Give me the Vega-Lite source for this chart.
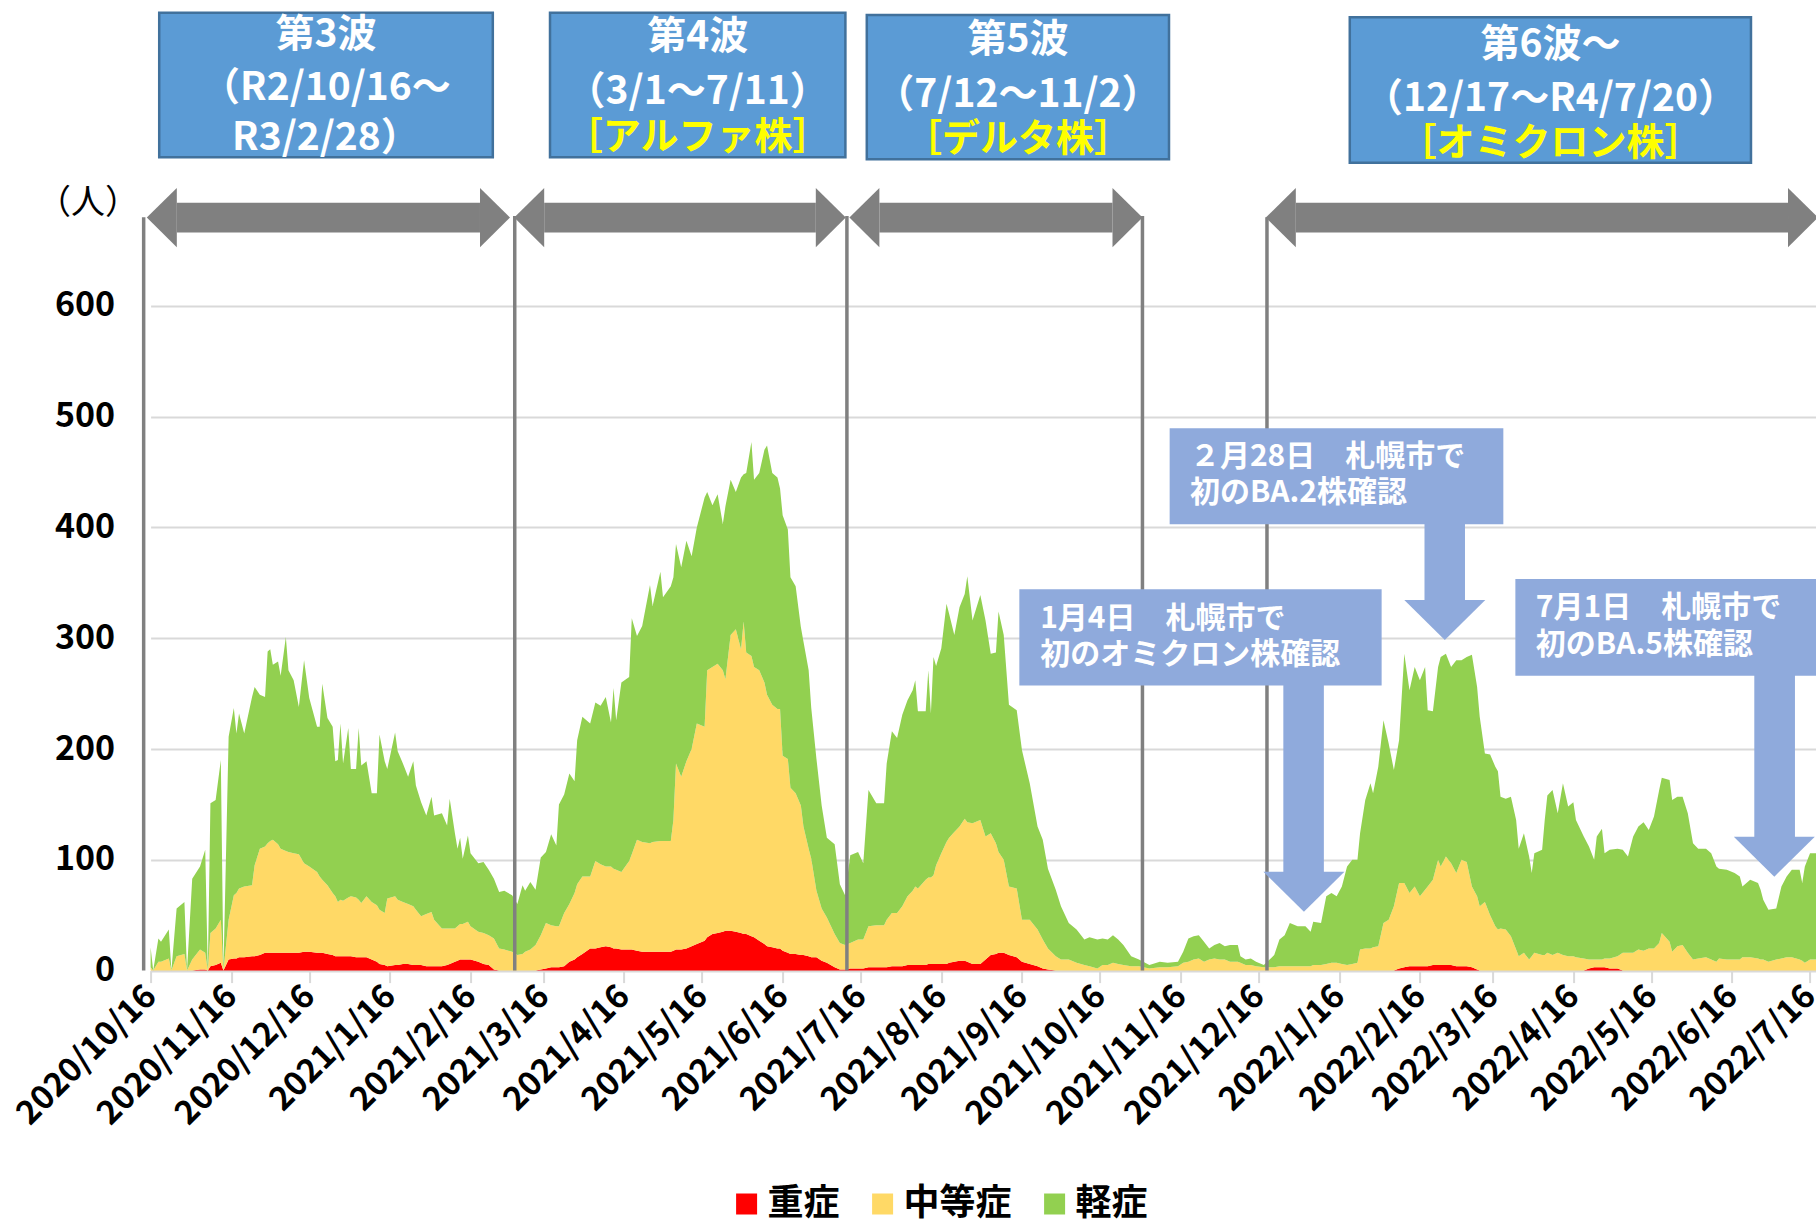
{
"$schema":"https://vega.github.io/schema/vega-lite/v6.json",
"width":1665.4,"height":970.6,
"autosize":{"type":"none"},
"padding":{"left":150.6,"top":0,"right":0,"bottom":249.4},
"background":"white",
"config":{"view":{"stroke":null},"font":"Noto Sans CJK JP"},
"datasets":{
"cases":[
{"日付":"2020-10-16","重症":0,"中等症":3,"軽症":18},
{"日付":"2020-10-17","重症":0,"中等症":0,"軽症":0},
{"日付":"2020-10-19","重症":0,"中等症":8,"軽症":21},
{"日付":"2020-10-20","重症":0,"中等症":8,"軽症":18},
{"日付":"2020-10-23","重症":0,"中等症":11,"軽症":26},
{"日付":"2020-10-24","重症":0,"中等症":0,"軽症":0},
{"日付":"2020-10-26","重症":0,"中等症":13,"軽症":43},
{"日付":"2020-10-29","重症":0,"中等症":15,"軽症":47},
{"日付":"2020-10-30","重症":0,"中等症":0,"軽症":0},
{"日付":"2020-11-01","重症":0,"中等症":10,"軽症":73},
{"日付":"2020-11-04","重症":1,"中等症":18,"軽症":75},
{"日付":"2020-11-06","重症":1,"中等症":15,"軽症":93},
{"日付":"2020-11-07","重症":0,"中等症":0,"軽症":0},
{"日付":"2020-11-08","重症":4,"中等症":30,"軽症":117},
{"日付":"2020-11-10","重症":5,"中等症":33,"軽症":116},
{"日付":"2020-11-12","重症":7,"中等症":39,"軽症":144},
{"日付":"2020-11-13","重症":0,"中等症":0,"軽症":0},
{"日付":"2020-11-15","重症":10,"中等症":36,"軽症":165},
{"日付":"2020-11-17","重症":11,"中等症":57,"軽症":169},
{"日付":"2020-11-18","重症":11,"中等症":59,"軽症":144},
{"日付":"2020-11-19","重症":12,"中等症":62,"軽症":158},
{"日付":"2020-11-21","重症":12,"中等症":64,"軽症":138},
{"日付":"2020-11-24","重症":13,"中等症":64,"軽症":170},
{"日付":"2020-11-25","重症":13,"中等症":82,"軽症":161},
{"日付":"2020-11-27","重症":14,"中等症":96,"軽症":139},
{"日付":"2020-11-29","重症":16,"中等症":96,"軽症":135},
{"日付":"2020-11-30","重症":16,"中等症":99,"軽症":173},
{"日付":"2020-12-01","重症":16,"中等症":101,"軽症":173},
{"日付":"2020-12-02","重症":16,"中等症":102,"軽症":158},
{"日付":"2020-12-04","重症":16,"中等症":98,"軽症":165},
{"日付":"2020-12-05","重症":16,"中等症":94,"軽症":156},
{"日付":"2020-12-07","重症":16,"中等症":92,"軽症":193},
{"日付":"2020-12-08","重症":16,"中等症":91,"軽症":164},
{"日付":"2020-12-10","重症":16,"中等症":90,"軽症":156},
{"日付":"2020-12-12","重症":16,"中等症":89,"軽症":133},
{"日付":"2020-12-14","重症":17,"中等症":80,"軽症":183},
{"日付":"2020-12-16","重症":17,"中等症":77,"軽症":152},
{"日付":"2020-12-19","重症":16,"中等症":73,"軽症":131},
{"日付":"2020-12-20","重症":16,"中等症":69,"軽症":135},
{"日付":"2020-12-21","重症":16,"中等症":66,"軽症":177},
{"日付":"2020-12-23","重症":15,"中等症":62,"軽症":151},
{"日付":"2020-12-25","重症":14,"中等症":56,"軽症":150},
{"日付":"2020-12-26","重症":13,"中等症":54,"軽症":122},
{"日付":"2020-12-27","重症":13,"中等症":49,"軽症":128},
{"日付":"2020-12-28","重症":13,"中等症":51,"軽症":159},
{"日付":"2020-12-29","重症":13,"中等症":50,"軽症":124},
{"日付":"2020-12-31","重症":13,"中等症":53,"軽症":153},
{"日付":"2021-01-01","重症":13,"中等症":54,"軽症":115},
{"日付":"2021-01-03","重症":12,"中等症":54,"軽症":116},
{"日付":"2021-01-04","重症":12,"中等症":52,"軽症":155},
{"日付":"2021-01-05","重症":12,"中等症":49,"軽症":124},
{"日付":"2021-01-07","重症":12,"中等症":55,"軽症":122},
{"日付":"2021-01-09","重症":10,"中等症":52,"軽症":98},
{"日付":"2021-01-11","重症":8,"中等症":51,"軽症":101},
{"日付":"2021-01-12","重症":6,"中等症":49,"軽症":158},
{"日付":"2021-01-14","重症":5,"中等症":47,"軽症":137},
{"日付":"2021-01-15","重症":4,"中等症":61,"軽症":117},
{"日付":"2021-01-18","重症":5,"中等症":62,"軽症":148},
{"日付":"2021-01-19","重症":5,"中等症":59,"軽症":134},
{"日付":"2021-01-21","重症":6,"中等症":56,"軽症":125},
{"日付":"2021-01-23","重症":6,"中等症":54,"軽症":115},
{"日付":"2021-01-25","重症":5,"中等症":53,"軽症":131},
{"日付":"2021-01-26","重症":5,"中等症":50,"軽症":112},
{"日付":"2021-01-28","重症":5,"中等症":44,"軽症":103},
{"日付":"2021-01-30","重症":4,"中等症":47,"軽症":89},
{"日付":"2021-02-01","重症":4,"中等症":49,"軽症":104},
{"日付":"2021-02-02","重症":4,"中等症":42,"軽症":94},
{"日付":"2021-02-05","重症":4,"中等症":34,"軽症":104},
{"日付":"2021-02-07","重症":5,"中等症":33,"軽症":93},
{"日付":"2021-02-08","重症":6,"中等症":32,"軽症":117},
{"日付":"2021-02-10","重症":8,"中等症":30,"軽症":86},
{"日付":"2021-02-11","重症":9,"中等症":31,"軽症":70},
{"日付":"2021-02-12","重症":10,"中等症":32,"軽症":78},
{"日付":"2021-02-13","重症":10,"中等症":32,"軽症":59},
{"日付":"2021-02-15","重症":10,"中等症":34,"軽症":78},
{"日付":"2021-02-16","重症":10,"中等症":30,"軽症":66},
{"日付":"2021-02-19","重症":8,"中等症":27,"軽症":62},
{"日付":"2021-02-21","重症":6,"中等症":28,"軽症":64},
{"日付":"2021-02-23","重症":5,"中等症":27,"軽症":59},
{"日付":"2021-02-25","重症":1,"中等症":28,"軽症":54},
{"日付":"2021-02-27","重症":0,"中等症":20,"軽症":51},
{"日付":"2021-03-01","重症":0,"中等症":19,"軽症":53},
{"日付":"2021-03-04","重症":0,"中等症":17,"軽症":51},
{"日付":"2021-03-06","重症":0,"中等症":14,"軽症":46},
{"日付":"2021-03-08","重症":0,"中等症":15,"軽症":62},
{"日付":"2021-03-09","重症":0,"中等症":17,"軽症":55},
{"日付":"2021-03-11","重症":0,"中等症":19,"軽症":61},
{"日付":"2021-03-13","重症":0,"中等症":23,"軽症":50},
{"日付":"2021-03-15","重症":1,"中等症":31,"軽症":70},
{"日付":"2021-03-17","重症":2,"中等症":41,"軽症":64},
{"日付":"2021-03-19","重症":3,"中等症":38,"軽症":82},
{"日付":"2021-03-21","重症":3,"中等症":37,"軽症":73},
{"日付":"2021-03-22","重症":3,"中等症":37,"軽症":110},
{"日付":"2021-03-24","重症":4,"中等症":48,"軽症":107},
{"日付":"2021-03-26","重症":8,"中等症":52,"軽症":118},
{"日付":"2021-03-28","重症":10,"中等症":60,"軽症":101},
{"日付":"2021-03-29","重症":12,"中等症":66,"軽症":130},
{"日付":"2021-03-31","重症":15,"中等症":70,"軽症":144},
{"日付":"2021-04-03","重症":20,"中等症":65,"軽症":138},
{"日付":"2021-04-05","重症":20,"中等症":79,"軽症":143},
{"日付":"2021-04-07","重症":21,"中等症":75,"軽症":143},
{"日付":"2021-04-09","重症":22,"中等症":72,"軽症":153},
{"日付":"2021-04-11","重症":21,"中等症":73,"軽症":130},
{"日付":"2021-04-12","重症":20,"中等症":72,"軽症":163},
{"日付":"2021-04-13","重症":20,"中等症":71,"軽症":135},
{"日付":"2021-04-15","重症":19,"中等症":70,"軽症":171},
{"日付":"2021-04-18","重症":19,"中等症":80,"軽症":166},
{"日付":"2021-04-19","重症":19,"中等症":86,"軽症":213},
{"日付":"2021-04-21","重症":18,"中等症":100,"軽症":184},
{"日付":"2021-04-23","重症":17,"中等症":99,"軽症":195},
{"日付":"2021-04-26","重症":17,"中等症":98,"軽症":233},
{"日付":"2021-04-27","重症":17,"中等症":99,"軽症":213},
{"日付":"2021-04-30","重症":17,"中等症":100,"軽症":243},
{"日付":"2021-05-01","重症":17,"中等症":100,"軽症":220},
{"日付":"2021-05-04","重症":17,"中等症":100,"軽症":230},
{"日付":"2021-05-05","重症":18,"中等症":118,"軽症":219},
{"日付":"2021-05-06","重症":19,"中等症":168,"軽症":198},
{"日付":"2021-05-08","重症":19,"中等症":156,"軽症":189},
{"日付":"2021-05-10","重症":20,"中等症":169,"軽症":199},
{"日付":"2021-05-12","重症":22,"中等症":178,"軽症":174},
{"日付":"2021-05-14","重症":24,"中等症":199,"軽症":177},
{"日付":"2021-05-17","重症":27,"中等症":193,"軽症":207},
{"日付":"2021-05-18","重症":30,"中等症":241,"軽症":161},
{"日付":"2021-05-20","重症":33,"中等症":241,"軽症":146},
{"日付":"2021-05-22","重症":34,"中等症":243,"軽症":153},
{"日付":"2021-05-24","重症":35,"中等症":236,"軽症":132},
{"日付":"2021-05-25","重症":36,"中等症":227,"軽症":156},
{"日付":"2021-05-27","重症":36,"中等症":267,"軽症":140},
{"日付":"2021-05-29","重症":35,"中等症":273,"軽症":124},
{"日付":"2021-05-31","重症":34,"中等症":256,"軽症":155},
{"日付":"2021-06-01","重症":33,"中等症":282,"軽症":133},
{"日付":"2021-06-02","重症":33,"中等症":254,"軽症":162},
{"日付":"2021-06-04","重症":31,"中等症":253,"軽症":193},
{"日付":"2021-06-05","重症":30,"中等症":244,"軽症":169},
{"日付":"2021-06-07","重症":27,"中等症":244,"軽症":178},
{"日付":"2021-06-09","重症":24,"中等症":236,"軽症":210},
{"日付":"2021-06-10","重症":22,"中等症":227,"軽症":225},
{"日付":"2021-06-12","重症":21,"中等症":219,"軽症":209},
{"日付":"2021-06-14","重症":20,"中等症":216,"軽症":209},
{"日付":"2021-06-15","重症":20,"中等症":216,"軽症":199},
{"日付":"2021-06-16","重症":18,"中等症":176,"軽症":217},
{"日付":"2021-06-18","重症":16,"中等症":175,"軽症":207},
{"日付":"2021-06-19","重症":15,"中等症":150,"軽症":190},
{"日付":"2021-06-21","重症":15,"中等症":145,"軽症":187},
{"日付":"2021-06-23","重症":14,"中等症":135,"軽症":161},
{"日付":"2021-06-24","重症":14,"中等症":116,"軽症":167},
{"日付":"2021-06-26","重症":13,"中等症":97,"軽症":161},
{"日付":"2021-06-27","重症":12,"中等症":89,"軽症":136},
{"日付":"2021-06-29","重症":12,"中等症":60,"軽症":119},
{"日付":"2021-07-01","重症":9,"中等症":47,"軽症":93},
{"日付":"2021-07-03","重症":7,"中等症":41,"軽症":72},
{"日付":"2021-07-06","重症":3,"中等症":30,"軽症":81},
{"日付":"2021-07-08","重症":1,"中等症":24,"軽症":53},
{"日付":"2021-07-10","重症":1,"中等症":22,"軽症":45},
{"日付":"2021-07-12","重症":2,"中等症":23,"軽症":79},
{"日付":"2021-07-15","重症":2,"中等症":26,"軽症":79},
{"日付":"2021-07-17","重症":2,"中等症":26,"軽症":69},
{"日付":"2021-07-19","重症":3,"中等症":37,"軽症":123},
{"日付":"2021-07-22","重症":3,"中等症":38,"軽症":110},
{"日付":"2021-07-25","重症":3,"中等症":38,"軽症":110},
{"日付":"2021-07-26","重症":3,"中等症":43,"軽症":141},
{"日付":"2021-07-28","重症":4,"中等症":48,"軽症":164},
{"日付":"2021-07-30","重症":4,"中等症":48,"軽症":158},
{"日付":"2021-08-01","重症":4,"中等症":54,"軽症":173},
{"日付":"2021-08-03","重症":5,"中等症":62,"軽症":177},
{"日付":"2021-08-05","重症":5,"中等症":67,"軽症":181},
{"日付":"2021-08-06","重症":5,"中等症":71,"軽症":186},
{"日付":"2021-08-07","重症":5,"中等症":69,"軽症":160},
{"日付":"2021-08-10","重症":5,"中等症":77,"軽症":152},
{"日付":"2021-08-11","重症":6,"中等症":78,"軽症":187},
{"日付":"2021-08-12","重症":6,"中等症":78,"軽症":148},
{"日付":"2021-08-13","重症":6,"中等症":80,"軽症":197},
{"日付":"2021-08-14","重症":6,"中等症":89,"軽症":180},
{"日付":"2021-08-16","重症":6,"中等症":100,"軽症":185},
{"日付":"2021-08-18","重症":6,"中等症":110,"軽症":215},
{"日付":"2021-08-19","重症":7,"中等症":113,"軽症":202},
{"日付":"2021-08-21","重症":8,"中等症":117,"軽症":178},
{"日付":"2021-08-23","重症":9,"中等症":121,"軽症":198},
{"日付":"2021-08-25","重症":9,"中等症":128,"軽症":203},
{"日付":"2021-08-26","重症":8,"中等症":126,"軽症":222},
{"日付":"2021-08-28","重症":6,"中等症":127,"軽症":183},
{"日付":"2021-08-31","重症":6,"中等症":130,"軽症":203},
{"日付":"2021-09-02","重症":10,"中等症":111,"軽症":195},
{"日付":"2021-09-04","重症":14,"中等症":110,"軽症":162},
{"日付":"2021-09-06","重症":15,"中等症":100,"軽症":172},
{"日付":"2021-09-07","重症":16,"中等症":91,"軽症":217},
{"日付":"2021-09-09","重症":16,"中等症":84,"軽症":203},
{"日付":"2021-09-11","重症":14,"中等症":62,"軽症":164},
{"日付":"2021-09-14","重症":12,"中等症":62,"軽症":161},
{"日付":"2021-09-16","重症":8,"中等症":38,"軽症":153},
{"日付":"2021-09-19","重症":6,"中等症":40,"軽症":123},
{"日付":"2021-09-22","重症":4,"中等症":33,"軽症":93},
{"日付":"2021-09-24","重症":2,"中等症":26,"軽症":90},
{"日付":"2021-09-26","重症":1,"中等症":19,"軽症":72},
{"日付":"2021-09-29","重症":0,"中等症":13,"軽症":60},
{"日付":"2021-10-01","重症":0,"中等症":10,"軽症":48},
{"日付":"2021-10-04","重症":0,"中等症":10,"軽症":33},
{"日付":"2021-10-07","重症":0,"中等症":7,"軽症":30},
{"日付":"2021-10-10","重症":0,"中等症":5,"軽症":23},
{"日付":"2021-10-12","重症":0,"中等症":4,"軽症":26},
{"日付":"2021-10-15","重症":0,"中等症":2,"軽症":26},
{"日付":"2021-10-17","重症":0,"中等症":5,"軽症":24},
{"日付":"2021-10-19","重症":0,"中等症":5,"軽症":23},
{"日付":"2021-10-21","重症":0,"中等症":7,"軽症":25},
{"日付":"2021-10-23","重症":0,"中等症":6,"軽症":22},
{"日付":"2021-10-25","重症":0,"中等症":5,"軽症":18},
{"日付":"2021-10-28","重症":0,"中等症":4,"軽症":9},
{"日付":"2021-10-31","重症":0,"中等症":4,"軽症":6},
{"日付":"2021-11-04","重症":0,"中等症":2,"軽症":3},
{"日付":"2021-11-08","重症":0,"中等症":3,"軽症":5},
{"日付":"2021-11-11","重症":0,"中等症":3,"軽症":4},
{"日付":"2021-11-15","重症":0,"中等症":4,"軽症":4},
{"日付":"2021-11-17","重症":0,"中等症":7,"軽症":10},
{"日付":"2021-11-19","重症":0,"中等症":8,"軽症":21},
{"日付":"2021-11-21","重症":0,"中等症":10,"軽症":21},
{"日付":"2021-11-23","重症":0,"中等症":11,"軽症":21},
{"日付":"2021-11-25","重症":0,"中等症":8,"軽症":18},
{"日付":"2021-11-27","重症":0,"中等症":10,"軽症":10},
{"日付":"2021-11-29","重症":0,"中等症":11,"軽症":12},
{"日付":"2021-12-01","重症":0,"中等症":10,"軽症":15},
{"日付":"2021-12-03","重症":0,"中等症":10,"軽症":12},
{"日付":"2021-12-05","重症":0,"中等症":8,"軽症":15},
{"日付":"2021-12-08","重症":0,"中等症":8,"軽症":15},
{"日付":"2021-12-09","重症":0,"中等症":7,"軽症":6},
{"日付":"2021-12-11","重症":0,"中等症":5,"軽症":5},
{"日付":"2021-12-13","重症":0,"中等症":5,"軽症":6},
{"日付":"2021-12-15","重症":0,"中等症":4,"軽症":4},
{"日付":"2021-12-18","重症":0,"中等症":3,"軽症":2},
{"日付":"2021-12-22","重症":0,"中等症":3,"軽症":11},
{"日付":"2021-12-24","重症":0,"中等症":4,"軽症":24},
{"日付":"2021-12-26","重症":0,"中等症":4,"軽症":28},
{"日付":"2021-12-28","重症":0,"中等症":4,"軽症":39},
{"日付":"2021-12-31","重症":0,"中等症":4,"軽症":36},
{"日付":"2022-01-03","重症":0,"中等症":4,"軽症":36},
{"日付":"2022-01-05","重症":0,"中等症":4,"軽症":31},
{"日付":"2022-01-06","重症":0,"中等症":5,"軽症":39},
{"日付":"2022-01-09","重症":0,"中等症":5,"軽症":38},
{"日付":"2022-01-11","重症":0,"中等症":6,"軽症":61},
{"日付":"2022-01-13","重症":0,"中等症":7,"軽症":63},
{"日付":"2022-01-15","重症":0,"中等症":7,"軽症":60},
{"日付":"2022-01-17","重症":0,"中等症":6,"軽症":70},
{"日付":"2022-01-19","重症":0,"中等症":5,"軽症":89},
{"日付":"2022-01-21","重症":0,"中等症":6,"軽症":94},
{"日付":"2022-01-23","重症":0,"中等症":7,"軽症":93},
{"日付":"2022-01-24","重症":0,"中等症":19,"軽症":105},
{"日付":"2022-01-26","重症":0,"中等症":20,"軽症":134},
{"日付":"2022-01-28","重症":0,"中等症":20,"軽症":149},
{"日付":"2022-01-29","重症":0,"中等症":21,"軽症":139},
{"日付":"2022-01-31","重症":0,"中等症":22,"軽症":162},
{"日付":"2022-02-02","重症":0,"中等症":43,"軽症":183},
{"日付":"2022-02-04","重症":0,"中等症":46,"軽症":159},
{"日付":"2022-02-06","重症":0,"中等症":58,"軽症":123},
{"日付":"2022-02-08","重症":2,"中等症":77,"軽症":129},
{"日付":"2022-02-10","重症":3,"中等症":76,"軽症":207},
{"日付":"2022-02-12","重症":4,"中等症":66,"軽症":183},
{"日付":"2022-02-14","重症":4,"中等症":72,"軽症":198},
{"日付":"2022-02-16","重症":4,"中等症":63,"軽症":195},
{"日付":"2022-02-18","重症":4,"中等症":69,"軽症":201},
{"日付":"2022-02-19","重症":4,"中等症":72,"軽症":159},
{"日付":"2022-02-21","重症":5,"中等症":77,"軽症":152},
{"日付":"2022-02-23","重症":5,"中等症":95,"軽症":174},
{"日付":"2022-02-24","重症":5,"中等症":89,"軽症":189},
{"日付":"2022-02-26","重症":5,"中等症":98,"軽症":183},
{"日付":"2022-02-28","重症":5,"中等症":92,"軽症":177},
{"日付":"2022-03-02","重症":4,"中等症":84,"軽症":192},
{"日付":"2022-03-04","重症":4,"中等症":96,"軽症":180},
{"日付":"2022-03-06","重症":4,"中等症":94,"軽症":185},
{"日付":"2022-03-08","重症":3,"中等症":73,"軽症":209},
{"日付":"2022-03-10","重症":1,"中等症":66,"軽症":189},
{"日付":"2022-03-11","重症":0,"中等症":58,"軽症":171},
{"日付":"2022-03-13","重症":0,"中等症":62,"軽症":134},
{"日付":"2022-03-15","重症":0,"中等症":50,"軽症":145},
{"日付":"2022-03-17","重症":0,"中等症":40,"軽症":144},
{"日付":"2022-03-18","重症":0,"中等症":37,"軽症":143},
{"日付":"2022-03-19","重症":0,"中等症":38,"軽症":119},
{"日付":"2022-03-21","重症":0,"中等症":37,"軽症":118},
{"日付":"2022-03-23","重症":0,"中等症":31,"軽症":126},
{"日付":"2022-03-25","重症":0,"中等症":19,"軽症":117},
{"日付":"2022-03-26","重症":0,"中等症":13,"軽症":97},
{"日付":"2022-03-28","重症":0,"中等症":16,"軽症":108},
{"日付":"2022-03-30","重症":0,"中等症":10,"軽症":93},
{"日付":"2022-03-31","重症":0,"中等症":13,"軽症":75},
{"日付":"2022-04-01","重症":0,"中等症":16,"軽症":90},
{"日付":"2022-04-04","重症":0,"中等症":14,"軽症":95},
{"日付":"2022-04-05","重症":0,"中等症":14,"軽症":122},
{"日付":"2022-04-06","重症":0,"中等症":16,"軽症":142},
{"日付":"2022-04-08","重症":0,"中等症":14,"軽症":149},
{"日付":"2022-04-10","重症":0,"中等症":16,"軽症":126},
{"日付":"2022-04-12","重症":0,"中等症":14,"軽症":155},
{"日付":"2022-04-14","重症":0,"中等症":13,"軽症":135},
{"日付":"2022-04-16","重症":0,"中等症":13,"軽症":139},
{"日付":"2022-04-17","重症":0,"中等症":12,"軽症":124},
{"日付":"2022-04-20","重症":0,"中等症":11,"軽症":110},
{"日付":"2022-04-22","重症":2,"中等症":8,"軽症":102},
{"日付":"2022-04-24","重症":3,"中等症":7,"軽症":90},
{"日付":"2022-04-25","重症":3,"中等症":7,"軽症":111},
{"日付":"2022-04-27","重症":3,"中等症":7,"軽症":118},
{"日付":"2022-04-28","重症":3,"中等症":8,"軽症":95},
{"日付":"2022-04-30","重症":2,"中等症":9,"軽症":98},
{"日付":"2022-05-03","重症":2,"中等症":11,"軽症":97},
{"日付":"2022-05-05","重症":0,"中等症":16,"軽症":93},
{"日付":"2022-05-07","重症":0,"中等症":16,"軽症":87},
{"日付":"2022-05-09","重症":0,"中等症":16,"軽症":105},
{"日付":"2022-05-11","重症":0,"中等症":19,"軽症":111},
{"日付":"2022-05-13","重症":0,"中等症":18,"軽症":116},
{"日付":"2022-05-15","重症":0,"中等症":20,"軽症":107},
{"日付":"2022-05-17","重症":0,"中等症":20,"軽症":119},
{"日付":"2022-05-19","重症":0,"中等症":25,"軽症":138},
{"日付":"2022-05-20","重症":0,"中等症":34,"軽症":140},
{"日付":"2022-05-23","重症":0,"中等症":26,"軽症":146},
{"日付":"2022-05-24","重症":0,"中等症":17,"軽症":137},
{"日付":"2022-05-26","重症":0,"中等症":22,"軽症":135},
{"日付":"2022-05-28","重症":0,"中等症":23,"軽症":134},
{"日付":"2022-05-30","重症":0,"中等症":16,"軽症":126},
{"日付":"2022-06-01","重症":0,"中等症":10,"軽症":105},
{"日付":"2022-06-03","重症":0,"中等症":11,"軽症":99},
{"日付":"2022-06-06","重症":0,"中等症":12,"軽症":98},
{"日付":"2022-06-08","重症":0,"中等症":10,"軽症":96},
{"日付":"2022-06-10","重症":0,"中等症":8,"軽症":86},
{"日付":"2022-06-11","重症":0,"中等症":11,"軽症":81},
{"日付":"2022-06-14","重症":0,"中等症":10,"軽症":81},
{"日付":"2022-06-17","重症":0,"中等症":10,"軽症":78},
{"日付":"2022-06-19","重症":0,"中等症":10,"軽症":75},
{"日付":"2022-06-20","重症":0,"中等症":12,"軽症":64},
{"日付":"2022-06-23","重症":0,"中等症":12,"軽症":70},
{"日付":"2022-06-26","重症":0,"中等症":11,"軽症":68},
{"日付":"2022-06-27","重症":0,"中等症":10,"軽症":63},
{"日付":"2022-06-28","重症":0,"中等症":10,"軽症":54},
{"日付":"2022-06-30","重症":0,"中等症":8,"軽症":47},
{"日付":"2022-07-03","重症":0,"中等症":10,"軽症":46},
{"日付":"2022-07-05","重症":0,"中等症":11,"軽症":65},
{"日付":"2022-07-07","重症":0,"中等症":12,"軽症":73},
{"日付":"2022-07-09","重症":0,"中等症":12,"軽症":79},
{"日付":"2022-07-12","重症":0,"中等症":10,"軽症":81},
{"日付":"2022-07-13","重症":0,"中等症":9,"軽症":70},
{"日付":"2022-07-14","重症":0,"中等症":7,"軽症":87},
{"日付":"2022-07-16","重症":0,"中等症":10,"軽症":96},
{"日付":"2022-07-20","重症":0,"中等症":10,"軽症":96}
]
},
"encoding":{
"x":{"field":"日付","type":"temporal",
 "scale":{"type":"utc","domain":[{"year":2020,"month":10,"date":16,"utc":true},{"year":2022,"month":7,"date":18,"hours":7,"utc":true}]},
 "axis":{"title":null,"grid":false,
  "values":[{"year":2020,"month":10,"date":16,"utc":true},{"year":2020,"month":11,"date":16,"utc":true},{"year":2020,"month":12,"date":16,"utc":true},{"year":2021,"month":1,"date":16,"utc":true},{"year":2021,"month":2,"date":16,"utc":true},{"year":2021,"month":3,"date":16,"utc":true},{"year":2021,"month":4,"date":16,"utc":true},{"year":2021,"month":5,"date":16,"utc":true},{"year":2021,"month":6,"date":16,"utc":true},{"year":2021,"month":7,"date":16,"utc":true},{"year":2021,"month":8,"date":16,"utc":true},{"year":2021,"month":9,"date":16,"utc":true},{"year":2021,"month":10,"date":16,"utc":true},{"year":2021,"month":11,"date":16,"utc":true},{"year":2021,"month":12,"date":16,"utc":true},{"year":2022,"month":1,"date":16,"utc":true},{"year":2022,"month":2,"date":16,"utc":true},{"year":2022,"month":3,"date":16,"utc":true},{"year":2022,"month":4,"date":16,"utc":true},{"year":2022,"month":5,"date":16,"utc":true},{"year":2022,"month":6,"date":16,"utc":true},{"year":2022,"month":7,"date":16,"utc":true}],
  "labelExpr":"utcFormat(datum.value, '%Y/%-m/%-d')",
  "labelAngle":-45,"labelAlign":"right","labelBaseline":"middle","labelPadding":8,"labelLimit":0,
  "labelFontSize":33,"labelFontWeight":"bold","labelColor":"#000000","labelFont":"Noto Sans CJK JP",
  "labelOverlap":false,"labelBound":false,"labelFlush":false,
  "tickSize":12,"tickColor":"#D9D9D9","tickWidth":2,"domainColor":"#D9D9D9","domainWidth":2}},
"y":{"field":"人数","type":"quantitative",
 "scale":{"domain":[0,876],"nice":false},
 "axis":{"title":null,"values":[0,100,200,300,400,500,600],"grid":true,"gridColor":"#D9D9D9","gridWidth":2,
  "ticks":false,"domain":false,"labelPadding":36,"labelFontSize":34,"labelFontWeight":"bold","labelColor":"#000000","labelFont":"Noto Sans CJK JP"}}
},
"layer":[
{"data":{"name":"cases"},
 "transform":[
  {"fold":["重症","中等症","軽症"],"as":["区分","人数"]},
  {"lookup":"区分","from":{"data":{"values":[{"区分":"重症","順":1},{"区分":"中等症","順":2},{"区分":"軽症","順":3}]},"key":"区分","fields":["順"]}}
 ],
 "mark":{"type":"area","interpolate":"linear","opacity":1},
 "encoding":{
  "color":{"field":"区分","type":"nominal",
   "scale":{"domain":["重症","中等症","軽症"],"range":["#FF0000","#FFD966","#92D050"]},
   "legend":{"title":null,"orient":"none","direction":"horizontal","legendX":578,"legendY":1186,
    "symbolType":"square","symbolSize":441,"symbolStrokeWidth":0,"labelFontSize":36,"labelFontWeight":"bold",
    "labelColor":"#000000","labelFont":"Noto Sans CJK JP","labelOffset":3,"columnPadding":24,"labelLimit":0}},
  "order":{"field":"順","type":"quantitative","sort":"ascending"}
 }},
{"data":{"values":[
  {"日付":"2020-10-13T08:00:00Z","人数":0,"人数2":680},
  {"日付":"2021-03-05T00:00:00Z","人数":0,"人数2":681},
  {"日付":"2021-07-10T17:00:00Z","人数":0,"人数2":681},
  {"日付":"2021-11-01T08:00:00Z","人数":0,"人数2":681},
  {"日付":"2021-12-19T05:00:00Z","人数":0,"人数2":680}]},
 "mark":{"type":"rule","color":"#808080","strokeWidth":3.5},
 "encoding":{"y2":{"field":"人数2"}}},
{"data":{"values":[
  {"日付":"2020-10-26T01:45:00Z","日付2":"2021-02-19T15:20:00Z","人数":666.2,"人数2":693.0},
  {"日付":"2021-03-16T07:55:00Z","日付2":"2021-06-28T18:00:00Z","人数":666.2,"人数2":693.0},
  {"日付":"2021-07-23T04:50:00Z","日付2":"2021-10-20T19:40:00Z","人数":666.2,"人数2":693.0},
  {"日付":"2021-12-30T07:10:00Z","日付2":"2022-07-07T13:00:00Z","人数":666.2,"人数2":693.0}]},
 "mark":{"type":"rect","color":"#808080"},
 "encoding":{"x2":{"field":"日付2"},"y2":{"field":"人数2"}}},
{"data":{"values":[
  {"日付":"2020-10-20T07:20:00Z","人数":679.6},
  {"日付":"2021-03-10T13:25:00Z","人数":679.6},
  {"日付":"2021-07-17T10:20:00Z","人数":679.6},
  {"日付":"2021-12-24T12:45:00Z","人数":679.6}]},
 "mark":{"type":"point","shape":"M 0.505 -1 L -0.505 0 L 0.505 1 Z","filled":true,"color":"#808080","opacity":1,"size":3528,"strokeWidth":0}},
{"data":{"values":[
  {"日付":"2021-02-25T09:50:00Z","人数":679.6},
  {"日付":"2021-07-04T12:15:00Z","人数":679.6},
  {"日付":"2021-10-26T14:10:00Z","人数":679.6},
  {"日付":"2022-07-13T07:10:00Z","人数":679.6}]},
 "mark":{"type":"point","shape":"M -0.505 -1 L 0.505 0 L -0.505 1 Z","filled":true,"color":"#808080","opacity":1,"size":3528,"strokeWidth":0}},
{"data":{"values":[
  {"日付":"2020-10-19T07:30:00Z","日付2":"2021-02-24T13:40:00Z","人数":734.0,"人数2":864.5},
  {"日付":"2021-03-18T13:25:00Z","日付2":"2021-07-10T03:00:00Z","人数":734.0,"人数2":864.5},
  {"日付":"2021-07-18T08:25:00Z","日付2":"2021-11-11T13:00:00Z","人数":732.3,"人数2":862.5},
  {"日付":"2022-01-20T01:00:00Z","日付2":"2022-06-23T07:00:00Z","人数":729.2,"人数2":860.4}]},
 "mark":{"type":"rect","fill":"#5B9BD5","stroke":"#41719C","strokeWidth":2.5},
 "encoding":{"x2":{"field":"日付2"},"y2":{"field":"人数2"}}},
{"data":{"values":[
  {"日付":"2020-12-22T10:00:00Z","人数":844.4,"文":"第3波"},
  {"日付":"2020-12-22T10:00:00Z","人数":796.3,"文":"（R2/10/16～"},
  {"日付":"2020-12-22T10:00:00Z","人数":751.1,"文":"R3/2/28）"},
  {"日付":"2021-05-14T08:00:00Z","人数":842.4,"文":"第4波"},
  {"日付":"2021-05-14T08:00:00Z","人数":792.8,"文":"（3/1～7/11）"},
  {"日付":"2021-09-14T11:00:00Z","人数":840.0,"文":"第5波"},
  {"日付":"2021-09-14T11:00:00Z","人数":790.1,"文":"（7/12～11/2）"},
  {"日付":"2022-04-07T05:00:00Z","人数":835.4,"文":"第6波～"},
  {"日付":"2022-04-07T05:00:00Z","人数":786.3,"文":"（12/17～R4/7/20）"}]},
 "mark":{"type":"text","color":"#FFFFFF","fontSize":39,"fontWeight":"bold","font":"Noto Sans CJK JP","align":"center","baseline":"middle"},
 "encoding":{"text":{"field":"文"}}},
{"data":{"values":[
  {"日付":"2021-05-14T08:00:00Z","人数":751.1,"文":"［アルファ株］"},
  {"日付":"2021-09-14T11:00:00Z","人数":749.6,"文":"［デルタ株］"},
  {"日付":"2022-04-07T05:00:00Z","人数":745.7,"文":"［オミクロン株］"}]},
 "mark":{"type":"text","color":"#FFFF00","fontSize":38,"fontWeight":"bold","font":"Noto Sans CJK JP","align":"center","baseline":"middle"},
 "encoding":{"text":{"field":"文"}}},
{"data":{"values":[
  {"日付":"2021-09-15T00:00:00Z","日付2":"2022-02-01T07:00:00Z","人数":257.3,"人数2":344.1},
  {"日付":"2021-11-11T19:00:00Z","日付2":"2022-03-20T02:00:00Z","人数":402.8,"人数2":489.4},
  {"日付":"2022-03-24T17:00:00Z","日付2":"2022-07-18T07:00:00Z","人数":266.2,"人数2":353.4},
  {"日付":"2021-12-25T12:00:00Z","日付2":"2022-01-10T02:00:00Z","人数":88.5,"人数2":258},
  {"日付":"2022-02-17T18:30:00Z","日付2":"2022-03-05T08:10:00Z","人数":333.6,"人数2":403.5},
  {"日付":"2022-06-24T13:40:00Z","日付2":"2022-07-10T04:50:00Z","人数":120,"人数2":267}]},
 "mark":{"type":"rect","color":"#8FAADC"},
 "encoding":{"x2":{"field":"日付2"},"y2":{"field":"人数2"}}},
{"data":{"values":[
  {"日付":"2022-01-02T10:00:00Z","人数":71.2},
  {"日付":"2022-02-25T13:55:00Z","人数":316.4},
  {"日付":"2022-07-02T06:15:00Z","人数":102.8}]},
 "mark":{"type":"point","shape":"M -1 -0.494 L 1 -0.494 L 0 0.494 Z","filled":true,"color":"#8FAADC","opacity":1,"size":6561,"strokeWidth":0}},
{"data":{"values":[
  {"日付":"2021-09-23T00:00:00Z","人数":317.3,"文":"1月4日　札幌市で"},
  {"日付":"2021-09-23T00:00:00Z","人数":284.8,"文":"初のオミクロン株確認"},
  {"日付":"2021-11-19T14:00:00Z","人数":463.8,"文":"２月28日　札幌市で"},
  {"日付":"2021-11-19T14:00:00Z","人数":430.8,"文":"初のBA.2株確認"},
  {"日付":"2022-04-01T14:00:00Z","人数":327.0,"文":"7月1日　札幌市で"},
  {"日付":"2022-04-01T14:00:00Z","人数":293.9,"文":"初のBA.5株確認"}]},
 "mark":{"type":"text","color":"#FFFFFF","fontSize":30,"fontWeight":"bold","font":"Noto Sans CJK JP","align":"left","baseline":"middle"},
 "encoding":{"text":{"field":"文"}}},
{"data":{"values":[{"日付":"2020-09-21T22:00:00Z","人数":691.9,"文":"（人）"}]},
 "mark":{"type":"text","color":"#000000","fontSize":34,"font":"Noto Sans CJK JP","align":"center","baseline":"middle"},
 "encoding":{"text":{"field":"文"}}}
]
}
